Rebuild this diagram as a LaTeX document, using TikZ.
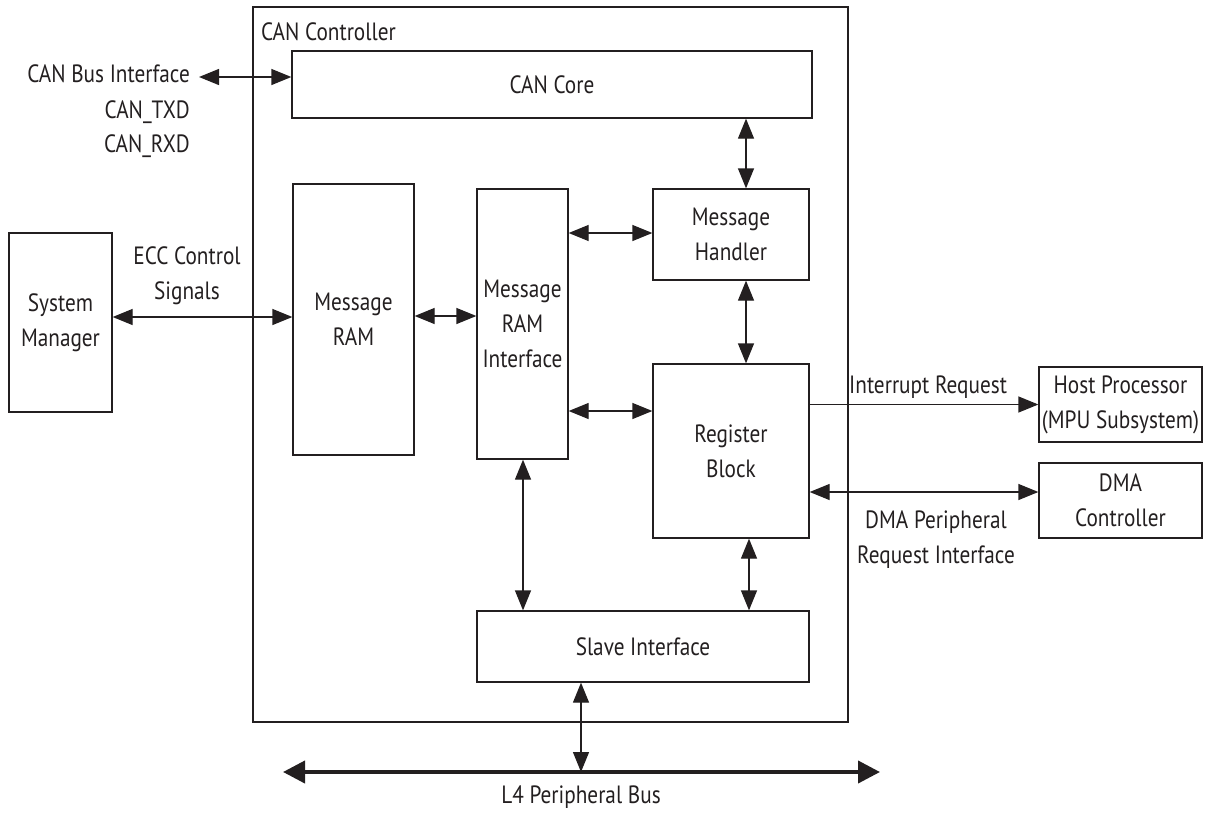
\documentclass[tikz,border=0pt]{standalone}
\usepackage{fontspec}
\setmainfont[FakeStretch=0.85]{PT Sans}
\usetikzlibrary{arrows.meta}
\definecolor{ink}{HTML}{231F20}
\begin{document}
\begin{tikzpicture}[x=1pt,y=-1pt,
  every node/.style={font=\fontsize{25}{35}\selectfont, text=ink, inner sep=0pt},
  blk/.style={draw=ink, line width=1.3pt, align=center},
  conn/.style={draw=ink, line width=1.3pt},
  biarrow/.style={conn, {Triangle[length=20pt,width=16pt]}-{Triangle[length=20pt,width=16pt]}},
  onearrow/.style={conn, -{Triangle[length=20pt,width=16pt]}},
  busline/.style={draw=ink, line width=4pt, {Triangle[length=22pt,width=22pt]}-{Triangle[length=22pt,width=22pt]}}
]
\useasboundingbox (0,0) rectangle (1207,814);

% container
\node[blk, minimum width=595pt, minimum height=715pt] (ctrl) at (550.5,364.5) {};
\node[anchor=base west] (ctrllbl) at (261,40) {CAN Controller};

% blocks
\node[blk, minimum width=520pt, minimum height=67pt] (core) at (552,84.5) {CAN Core};
\node[blk, minimum width=121pt, minimum height=271pt] (ram) at (353.5,319.5) {Message\\RAM};
\node[blk, minimum width=91pt, minimum height=270pt] (ramif) at (522.5,324) {Message\\RAM\\Interface};
\node[blk, minimum width=156pt, minimum height=91pt] (handler) at (731,234.5) {Message\\Handler};
\node[blk, minimum width=156pt, minimum height=174pt] (reg) at (731,451) {Register\\Block};
\node[blk, minimum width=332pt, minimum height=71pt] (slave) at (643,646.5) {Slave Interface};
\node[blk, minimum width=103pt, minimum height=179pt] (sysmgr) at (60.5,322.5) {System\\Manager};
\node[blk, minimum width=163pt, minimum height=75pt] (host) at (1120.5,404.5) {Host Processor\\(MPU Subsystem)};
\node[blk, minimum width=163pt, minimum height=75pt] (dma) at (1120.5,500.5) {DMA\\Controller};

% labels
\node[anchor=base east] (cbi) at (190,82) {CAN Bus Interface};
\node[anchor=base east] (txd) at (190,118) {CAN\_TXD};
\node[anchor=base east] (rxd) at (190,152) {CAN\_RXD};
\node[align=center] (ecc) at (187,276) {ECC Control\\Signals};
\node[anchor=base west] (irq) at (849,393) {Interrupt Request};
\node[align=center] (dmareq) at (936,540) {DMA Peripheral\\Request Interface};
\node[anchor=base] (l4) at (581,803) {L4 Peripheral Bus};

% helper coordinates
\coordinate (canbus) at (199,77);
\coordinate (x746) at (746,0);
\coordinate (x749) at (749,0);
\coordinate (x523) at (523,0);
\coordinate (x581) at (581,0);
\coordinate (y233) at (0,233);
\coordinate (y316) at (0,316);
\coordinate (y317) at (0,317);
\coordinate (y411) at (0,411);
\coordinate (y492) at (0,492);
\coordinate (busL) at (283,772);
\coordinate (busR) at (880,772);
\coordinate (busM) at (581,772);

% connectors
\draw[biarrow] (canbus) -- (core.west |- canbus);
\draw[biarrow] (core.south -| x746) -- (handler.north -| x746);
\draw[biarrow] (handler.south -| x746) -- (reg.north -| x746);
\draw[biarrow] (ramif.east |- y233) -- (handler.west |- y233);
\draw[biarrow] (ramif.east |- y411) -- (reg.west |- y411);
\draw[biarrow] (ram.east |- y316) -- (ramif.west |- y316);
\draw[biarrow] (sysmgr.east |- y317) -- (ram.west |- y317);
\draw[biarrow] (ramif.south -| x523) -- (slave.north -| x523);
\draw[biarrow] (reg.south -| x749) -- (slave.north -| x749);
\draw[onearrow] (reg.east |- host.west) -- (host.west);
\draw[biarrow] (reg.east |- y492) -- (dma.west |- y492);
\draw[biarrow] (slave.south -| x581) -- (busM);
\draw[busline] (busL) -- (busR);
\end{tikzpicture}
\end{document}
